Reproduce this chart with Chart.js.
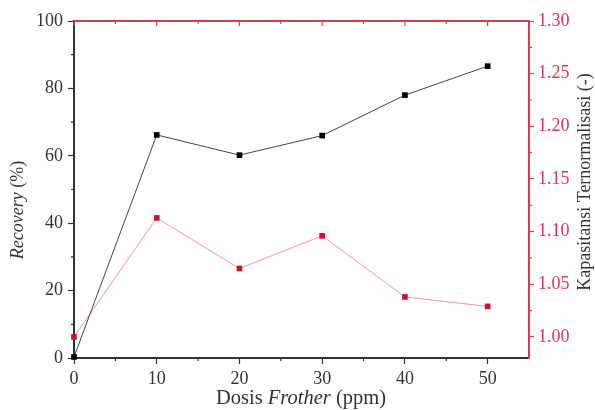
<!DOCTYPE html>
<html>
<head>
<meta charset="utf-8">
<script src="https://cdn.jsdelivr.net/npm/chart.js@4.4.0/dist/chart.umd.min.js"></script>
<style>
  html, body { margin: 0; padding: 0; background: #fff; }
  #wrap { position: relative; width: 595px; height: 410px; }
</style>
</head>
<body>
<div id="wrap"><canvas id="grafico" width="595" height="410"></canvas></div>
<script>
'use strict';

// dati
const dosis = [0, 10, 20, 30, 40, 50];
const recovery = [0.3, 66.2, 60.2, 66.0, 78.0, 86.6];
const kapasitansi = [1.000, 1.113, 1.065, 1.096, 1.038, 1.029];

const xTicks = [0, 10, 20, 30, 40, 50];
const xMinor = [5, 15, 25, 35, 45];
const yTicks = [0, 20, 40, 60, 80, 100];
const yMinor = [10, 30, 50, 70, 90];
const y1Ticks = [1.00, 1.05, 1.10, 1.15, 1.20, 1.25, 1.30];
const y1Minor = [1.025, 1.075, 1.125, 1.175, 1.225, 1.275];

const FONT = "'Liberation Serif', 'Times New Roman', serif";
const DARK = '#333333';
const RED = '#d63a55';

function fixTicks(values) {
  return scale => { scale.ticks = values.map(v => ({ value: v })); };
}

// testo misto normale / corsivo
function drawRich(ctx, parts, x, y, size) {
  let total = 0;
  parts.forEach(p => {
    ctx.font = (p.i ? 'italic ' : '') + size + 'px ' + FONT;
    p.w = ctx.measureText(p.t).width;
    total += p.w;
  });
  let cx = x - total / 2;
  parts.forEach(p => {
    ctx.font = (p.i ? 'italic ' : '') + size + 'px ' + FONT;
    ctx.fillText(p.t, cx, y);
    cx += p.w;
  });
}

const decorazioni = {
  id: 'decorazioni',
  afterDraw(chart) {
    const { ctx, chartArea: a, scales } = chart;
    const x = scales.x, y = scales.y, y1 = scales.y1;
    ctx.save();

    // bordo superiore rosso con tacche verso l'interno
    ctx.strokeStyle = RED;
    ctx.lineWidth = 2;
    ctx.beginPath();
    ctx.moveTo(a.left, a.top); ctx.lineTo(a.right, a.top);
    ctx.stroke();
    ctx.lineWidth = 1.2;
    ctx.beginPath();
    xTicks.forEach(v => { const px = x.getPixelForValue(v); ctx.moveTo(px, a.top); ctx.lineTo(px, a.top + 5); });
    xMinor.forEach(v => { const px = x.getPixelForValue(v); ctx.moveTo(px, a.top); ctx.lineTo(px, a.top + 3); });
    ctx.stroke();

    // tacche minori
    ctx.strokeStyle = DARK;
    ctx.beginPath();
    xMinor.forEach(v => { const px = x.getPixelForValue(v); ctx.moveTo(px, a.bottom); ctx.lineTo(px, a.bottom + 3); });
    yMinor.forEach(v => { const py = y.getPixelForValue(v); ctx.moveTo(a.left, py); ctx.lineTo(a.left - 3, py); });
    ctx.stroke();
    ctx.strokeStyle = RED;
    ctx.beginPath();
    y1Minor.forEach(v => { const py = y1.getPixelForValue(v); ctx.moveTo(a.right, py); ctx.lineTo(a.right + 3, py); });
    ctx.stroke();

    // titoli degli assi
    ctx.fillStyle = DARK;
    ctx.textBaseline = 'middle';
    ctx.textAlign = 'left';
    drawRich(ctx, [{ t: 'Dosis ' }, { t: 'Frother', i: true }, { t: ' (ppm)' }], 301, 399, 20.5);

    ctx.save();
    ctx.translate(18, 210);
    ctx.rotate(-Math.PI / 2);
    drawRich(ctx, [{ t: 'Recovery', i: true }, { t: ' (%)' }], 0, 0, 18);
    ctx.restore();

    ctx.save();
    ctx.translate(585, 182);
    ctx.rotate(-Math.PI / 2);
    drawRich(ctx, [{ t: 'Kapasitansi Ternormalisasi (-)' }], 0, 0, 18);
    ctx.restore();

    ctx.restore();
  }
};

const ctx = document.getElementById('grafico').getContext('2d');
new Chart(ctx, {
  type: 'line',
  data: {
    datasets: [
      {
        label: 'Recovery',
        data: dosis.map((d, i) => ({ x: d, y: recovery[i] })),
        yAxisID: 'y',
        borderColor: '#444',
        borderWidth: 1,
        backgroundColor: '#000',
        pointStyle: 'rect',
        pointRadius: 4,
        pointBorderWidth: 0,
        pointBackgroundColor: '#000',
        tension: 0,
        clip: false
      },
      {
        label: 'Kapasitansi',
        data: dosis.map((d, i) => ({ x: d, y: kapasitansi[i] })),
        yAxisID: 'y1',
        borderColor: '#e99aa6',
        borderWidth: 1,
        backgroundColor: '#c8142e',
        pointStyle: 'rect',
        pointRadius: 4,
        pointBorderWidth: 0,
        pointBackgroundColor: '#c8142e',
        tension: 0,
        clip: false
      }
    ]
  },
  options: {
    responsive: false,
    animation: false,
    layout: { padding: { top: 21, left: 0, right: 0, bottom: 0 } },
    plugins: { legend: { display: false }, tooltip: { enabled: false } },
    scales: {
      x: {
        type: 'linear', min: 0, max: 55,
        afterBuildTicks: fixTicks(xTicks),
        afterFit: s => { s.height = 52; },
        ticks: { color: DARK, font: { family: FONT, size: 18 }, padding: 4 },
        grid: { drawOnChartArea: false, drawTicks: true, tickLength: 6, color: DARK, tickWidth: 1.2 },
        border: { display: true, color: DARK, width: 2 }
      },
      y: {
        type: 'linear', position: 'left', min: 0, max: 100,
        afterBuildTicks: fixTicks(yTicks),
        afterFit: s => { s.width = 74; },
        ticks: { color: DARK, font: { family: FONT, size: 18 }, padding: 5 },
        grid: { drawOnChartArea: false, drawTicks: true, tickLength: 6, color: DARK, tickWidth: 1.2 },
        border: { display: true, color: DARK, width: 2 }
      },
      y1: {
        type: 'linear', position: 'right', min: 0.98, max: 1.30,
        afterBuildTicks: fixTicks(y1Ticks),
        afterFit: s => { s.width = 66; },
        ticks: { color: RED, font: { family: FONT, size: 18 }, padding: 4, callback: v => v.toFixed(2) },
        grid: { drawOnChartArea: false, drawTicks: true, tickLength: 5, color: RED, tickWidth: 1.2 },
        border: { display: true, color: RED, width: 2 }
      }
    }
  },
  plugins: [decorazioni]
});
</script>
</body>
</html>
